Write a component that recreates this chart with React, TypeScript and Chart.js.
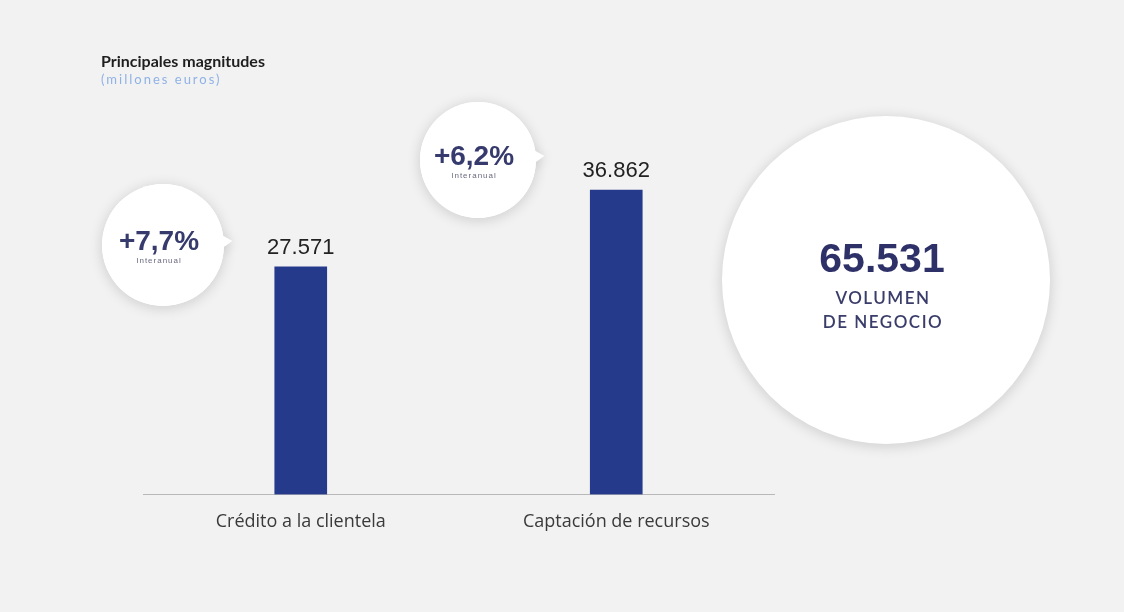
import React, { useEffect, useRef } from "react";
import { Chart, registerables } from "chart.js";

Chart.register(...registerables);

const categories = ["Crédito a la clientela", "Captación de recursos"];
const values = [27571, 36862];
const valueLabels = ["27.571", "36.862"];
const growthLabels = ["+7,7%", "+6,2%"];
const growthSub = "Interanual";
const totalLabel = "65.531";
const totalCaption = ["VOLUMEN", "DE NEGOCIO"];
const title = "Principales magnitudes";
const subtitle = "(millones euros)";

// layout of the decorative bubbles (centre x, centre y, radius)
const bubbleLayout = [
  [163, 245, 61],
  [478, 160, 58],
];

const decorPlugin = {
  id: "decor",
  beforeDatasetsDraw(chart: any) {
    const ctx = chart.ctx;
    const tailPath = (x: number, y: number, r: number) => {
      ctx.beginPath();
      ctx.moveTo(x + r - 6, y - 12);
      ctx.lineTo(x + r + 8, y - 4);
      ctx.lineTo(x + r - 6, y + 6);
      ctx.closePath();
      ctx.fill();
    };
    const drawCircle = (x: number, y: number, r: number, tail: boolean) => {
      ctx.save();
      ctx.shadowColor = "rgba(0,0,0,0.16)";
      ctx.shadowBlur = 14;
      ctx.shadowOffsetX = 0;
      ctx.shadowOffsetY = 2;
      ctx.fillStyle = "#ffffff";
      ctx.beginPath();
      ctx.arc(x, y, r, 0, Math.PI * 2);
      ctx.fill();
      if (tail) tailPath(x, y, r);
      ctx.restore();
      if (tail) {
        ctx.save();
        ctx.fillStyle = "#ffffff";
        ctx.beginPath();
        ctx.arc(x, y, r, 0, Math.PI * 2);
        ctx.fill();
        tailPath(x, y, r);
        ctx.restore();
      }
    };
    // title
    ctx.save();
    ctx.textAlign = "left";
    ctx.textBaseline = "middle";
    ctx.fillStyle = "#1e1e1e";
    ctx.font = "bold 16px Lato";
    ctx.fillText(title, 101, 62);
    ctx.fillStyle = "#8fb2e6";
    ctx.font = "13px Lato";
    (ctx as any).letterSpacing = "2px";
    ctx.fillText(subtitle, 101, 80);
    ctx.restore();

    // growth bubbles
    growthLabels.forEach((lbl, i) => {
      const [cx, cy, r] = bubbleLayout[i];
      drawCircle(cx, cy, r, true);
      ctx.save();
      ctx.textAlign = "center";
      ctx.textBaseline = "middle";
      ctx.fillStyle = "#363a6c";
      ctx.font = "bold 28px 'Liberation Sans'";
      ctx.fillText(lbl, cx - 4, cy - 3);
      ctx.fillStyle = "#6a6a80";
      ctx.font = "8px 'Liberation Sans'";
      (ctx as any).letterSpacing = "1px";
      ctx.fillText(growthSub, cx - 4, cy + 16);
      ctx.restore();
    });

    // big circle
    const bx = 886, by = 280;
    drawCircle(bx, by, 164, false);
    ctx.save();
    ctx.textAlign = "center";
    ctx.textBaseline = "middle";
    ctx.fillStyle = "#2e3168";
    ctx.font = "bold 41px 'Liberation Sans'";
    ctx.fillText(totalLabel, bx - 4, by - 19);
    ctx.fillStyle = "#3a3d6a";
    ctx.font = "600 17px Lato";
    (ctx as any).letterSpacing = "1.5px";
    ctx.fillText(totalCaption[0], bx - 3, by + 19);
    ctx.fillText(totalCaption[1], bx - 3, by + 43);
    ctx.restore();
  },
  afterDatasetsDraw(chart: any) {
    const ctx = chart.ctx;
    const meta = chart.getDatasetMeta(0);
    meta.data.forEach((bar: any, i: number) => {
      ctx.save();
      ctx.textAlign = "center";
      ctx.textBaseline = "middle";
      ctx.fillStyle = "#222222";
      ctx.font = "22px 'Liberation Sans'";
      ctx.fillText(valueLabels[i], bar.x, bar.y - 19);
      ctx.restore();
    });
  },
};

export default function App() {
  const ref = useRef<HTMLCanvasElement | null>(null);
  useEffect(() => {
    document.body.style.margin = "0";
    const chart = new Chart(ref.current!, {
      type: "bar",
      data: {
        labels: categories,
        datasets: [
          {
            data: values,
            backgroundColor: "#263a8b",
            barThickness: 52,
          },
        ],
      },
      options: {
        animation: false,
        responsive: false,
        maintainAspectRatio: false,
        layout: { padding: { left: 143, right: 350, top: 123, bottom: 62 } },
        plugins: {
          legend: { display: false },
          tooltip: { enabled: false },
          title: { display: false },
        },
        scales: {
          x: {
            grid: { display: false, drawTicks: false },
            border: { display: true, color: "#b8b8b8", width: 1 },
            ticks: {
              color: "#3a3a3a",
              font: { family: "'Open Sans'", size: 18 },
              padding: 17,
            },
          },
          y: {
            display: false,
            min: 0,
            max: 45000,
          },
        },
      },
      plugins: [decorPlugin],
    });
    return () => chart.destroy();
  }, []);
  return (
    <div style={{ width: 1124, height: 612, background: "#f2f2f2" }}>
      <canvas ref={ref} width={1124} height={612} />
    </div>
  );
}
